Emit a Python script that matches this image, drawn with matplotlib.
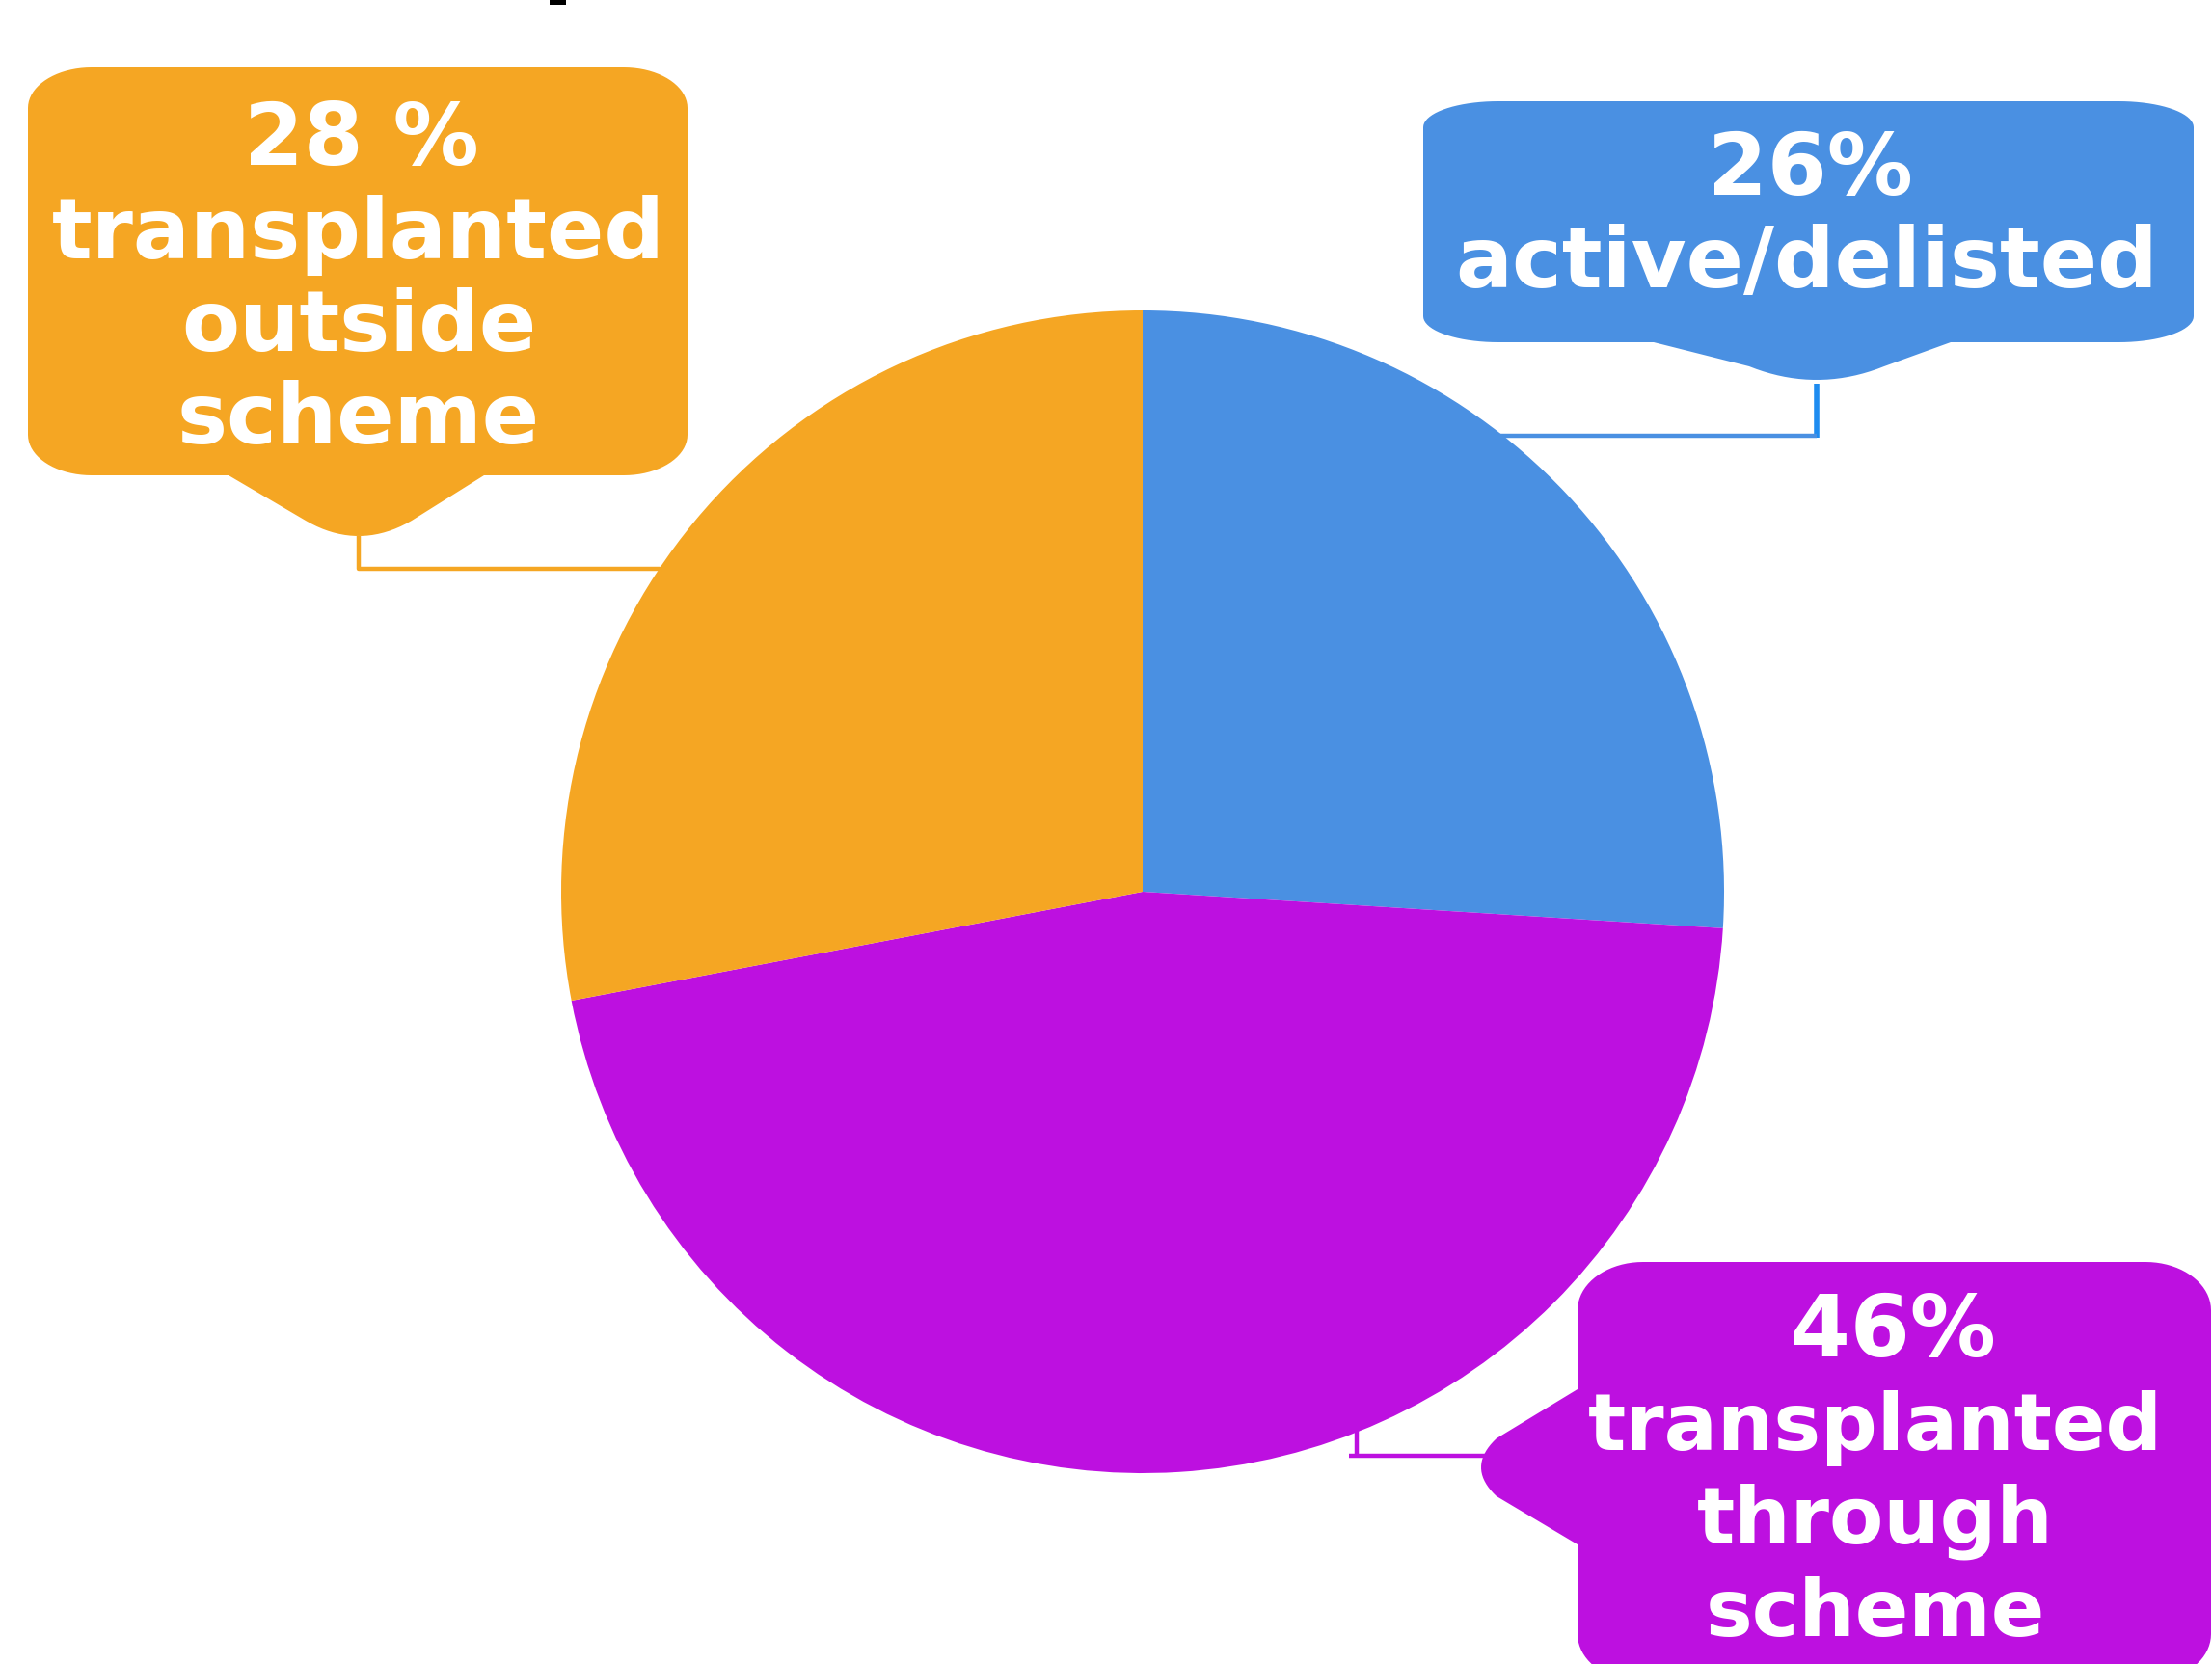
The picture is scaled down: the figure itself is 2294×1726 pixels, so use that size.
import matplotlib
matplotlib.use("Agg")
import matplotlib.pyplot as plt
import numpy as np
from matplotlib.path import Path
from matplotlib.patches import PathPatch, Rectangle

W, H = 2294, 1726

# slice data, in drawing order (clockwise from 12 o'clock)
labels = ["active/delisted", "transplanted through scheme", "transplanted outside scheme"]
shares = [26, 46, 28]
colors = ["#4A90E2", "#BD10E0", "#F5A623"]
pct_text = ["26%", "46%", "28 %"]
label_lines = [["active/delisted"],
               ["transplanted", "through", "scheme"],
               ["transplanted", "outside", "scheme"]]


def arc(cx, cy, rx, ry, t0, t1, n=20):
    t = np.radians(np.linspace(t0, t1, n))
    return list(zip(cx + rx * np.cos(t), cy + ry * np.sin(t)))


def bez(p0, p1, p2, n=20):
    t = np.linspace(0, 1, n)[:, None]
    p0, p1, p2 = map(np.array, (p0, p1, p2))
    pts = (1 - t) ** 2 * p0 + 2 * (1 - t) * t * p1 + t ** 2 * p2
    return [tuple(p) for p in pts]


def bubble(l, t, r, b, rx, ry, tail=None):
    # pixel coords, y grows downwards
    pts = [(l + rx, t), (r - rx, t)]
    pts += arc(r - rx, t + ry, rx, ry, -90, 0)
    pts += arc(r - rx, b - ry, rx, ry, 0, 90)
    if tail and tail[0] == "bottom":
        _, bl, br, tx, ty, a, h = tail
        pts += [(br, b), (tx + a, ty - h)]
        pts += bez((tx + a, ty - h), (tx, ty + h), (tx - a, ty - h))
        pts += [(bl, b)]
    pts += arc(l + rx, b - ry, rx, ry, 90, 180)
    if tail and tail[0] == "left":
        _, bb, bt, tx, ty, a, h = tail
        pts += [(l, bb), (tx + h, ty + a)]
        pts += bez((tx + h, ty + a), (tx - h, ty), (tx + h, ty - a))
        pts += [(l, bt)]
    pts += arc(l + rx, t + ry, rx, ry, 180, 270)
    pts.append(pts[0])
    codes = [Path.MOVETO] + [Path.LINETO] * (len(pts) - 2) + [Path.CLOSEPOLY]
    return Path(pts, codes)


def main():
    fig = plt.figure(figsize=(W / 100, H / 100), dpi=100)
    ax = fig.add_axes([0, 0, 1, 1])

    # y axis inverted -> counterclock in data is clockwise on screen
    ax.pie(shares, colors=colors, startangle=-90, counterclock=True,
           center=(1185, 925), radius=603,
           wedgeprops=dict(linewidth=0))

    ax.set_xlim(0, W)
    ax.set_ylim(H, 0)
    ax.set_aspect("equal")
    ax.axis("off")

    # callout bubbles
    blue, purple, orange = colors
    ax.add_patch(PathPatch(bubble(1476, 105, 2275, 355, 78, 27,
                                  ("bottom", 1715, 2023, 1884, 394, 70, 14)),
                           fc=blue, ec="none"))
    ax.add_patch(PathPatch(bubble(29, 70, 713, 493, 66, 42,
                                  ("bottom", 237, 502, 372, 556, 55, 16)),
                           fc=orange, ec="none"))
    ax.add_patch(PathPatch(bubble(1636, 1309, 2293, 1745, 68, 50,
                                  ("left", 1602, 1441, 1536, 1522, 30, 16)),
                           fc=purple, ec="none"))

    # leader lines
    lw = 3.2
    ax.plot([1884, 1884], [398, 454], color="#1E8CF0", lw=lw + 0.8, solid_capstyle="butt")
    ax.plot([1554, 1884], [452, 452], color=blue, lw=lw, solid_capstyle="butt")
    ax.plot([372, 372, 688], [556, 590, 590], color=orange, lw=lw, solid_capstyle="butt")
    ax.plot([1407, 1407], [1482, 1510], color=purple, lw=lw, solid_capstyle="butt")
    ax.plot([1399, 1540], [1510, 1510], color=purple, lw=lw, solid_capstyle="butt")

    # callout text
    font = dict(color="white", fontweight="bold", family="DejaVu Sans",
                ha="center", va="baseline")
    ax.text(1877, 202, pct_text[0], fontsize=64, **font)
    ax.text(1874, 298, label_lines[0][0], fontsize=63, **font)

    ax.text(375, 171, pct_text[2], fontsize=64, **font)
    for i, line in enumerate(label_lines[2]):
        ax.text(372, 268 + i * 96, line, fontsize=63, **font)

    ax.text(1963, 1407, pct_text[1], fontsize=64, **font)
    for i, line in enumerate(label_lines[1]):
        ax.text(1945, 1504 + i * 96.5, line, fontsize=59, **font)

    # bit of a cropped heading at the top edge
    ax.add_patch(Rectangle((570, 0), 17, 5, fc="black", ec="none"))

    fig.savefig("out.png", dpi=100)


if __name__ == '__main__':
    main()
